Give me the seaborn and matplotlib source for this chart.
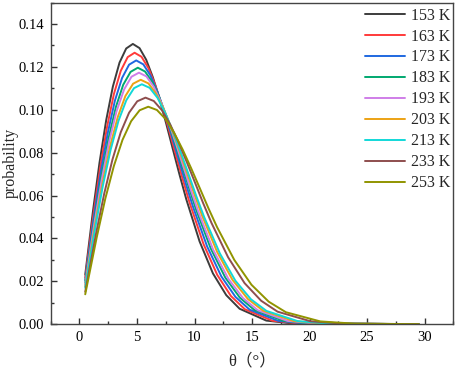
import matplotlib
matplotlib.use("Agg")
import matplotlib.pyplot as plt
from matplotlib.ticker import MultipleLocator, FormatStrFormatter
import seaborn as sns
import pandas as pd

temperatures = ["153 K", "163 K", "173 K", "183 K", "193 K", "203 K", "213 K", "233 K", "253 K"]
colors = ["#3c3c3c", "#ff3a3a", "#1f68e0", "#00a870", "#cf7ee8", "#eca214", "#12d8d8", "#8e4e4e", "#919400"]

theta_153 = [0.5, 1.16, 1.74, 2.32, 2.90, 3.48, 4.06, 4.64, 5.22, 5.80, 6.38, 6.96, 7.54, 8.12, 8.70, 9.28, 10.44, 11.60, 12.76, 13.92, 16.24, 18.56, 29.5]
p_153 = [0.02309, 0.05222, 0.07533, 0.09510, 0.11080, 0.12201, 0.12860, 0.13072, 0.12877, 0.12334, 0.11514, 0.10495, 0.09353, 0.08156, 0.06967, 0.05833, 0.03858, 0.02367, 0.01351, 0.00718, 0.00165, 0.00029, 0.0]

theta_163 = [0.5, 1.20, 1.80, 2.40, 2.99, 3.59, 4.19, 4.79, 5.39, 5.99, 6.59, 7.19, 7.78, 8.38, 8.98, 9.58, 10.78, 11.98, 13.17, 14.37, 16.77, 19.16, 29.5]
p_163 = [0.02167, 0.05059, 0.07297, 0.09212, 0.10733, 0.11819, 0.12457, 0.12662, 0.12474, 0.11948, 0.11154, 0.10167, 0.09060, 0.07901, 0.06749, 0.05651, 0.03737, 0.02293, 0.01309, 0.00696, 0.00160, 0.00028, 0.0]

theta_173 = [0.5, 1.23, 1.85, 2.47, 3.08, 3.70, 4.31, 4.93, 5.55, 6.16, 6.78, 7.40, 8.01, 8.63, 9.24, 9.86, 11.09, 12.33, 13.56, 14.79, 17.26, 19.72, 29.5]
p_173 = [0.02047, 0.04915, 0.07090, 0.08950, 0.10428, 0.11483, 0.12104, 0.12303, 0.12119, 0.11608, 0.10837, 0.09878, 0.08802, 0.07677, 0.06558, 0.05490, 0.03631, 0.02228, 0.01271, 0.00676, 0.00155, 0.00027, 0.0]

theta_183 = [0.5, 1.27, 1.90, 2.54, 3.17, 3.80, 4.44, 5.07, 5.70, 6.34, 6.97, 7.61, 8.24, 8.87, 9.51, 10.14, 11.41, 12.68, 13.94, 15.21, 17.75, 20.28, 29.5]
p_183 = [0.01936, 0.04779, 0.06894, 0.08703, 0.10140, 0.11166, 0.11769, 0.11963, 0.11785, 0.11288, 0.10538, 0.09605, 0.08559, 0.07465, 0.06377, 0.05339, 0.03531, 0.02167, 0.01236, 0.00657, 0.00151, 0.00026, 0.0]

theta_193 = [0.5, 1.29, 1.94, 2.59, 3.23, 3.88, 4.52, 5.17, 5.82, 6.46, 7.11, 7.76, 8.40, 9.05, 9.69, 10.34, 11.63, 12.93, 14.22, 15.51, 18.10, 20.68, 29.5]
p_193 = [0.01862, 0.04687, 0.06761, 0.08535, 0.09944, 0.10950, 0.11542, 0.11732, 0.11557, 0.11070, 0.10334, 0.09419, 0.08394, 0.07320, 0.06253, 0.05235, 0.03463, 0.02125, 0.01212, 0.00645, 0.00148, 0.00026, 0.0]

theta_203 = [0.5, 1.33, 2.00, 2.66, 3.33, 3.99, 4.66, 5.32, 5.99, 6.65, 7.32, 7.98, 8.65, 9.31, 9.98, 10.64, 11.97, 13.30, 14.63, 15.96, 18.62, 21.28, 29.5]
p_203 = [0.01759, 0.04555, 0.06570, 0.08294, 0.09664, 0.10642, 0.11216, 0.11401, 0.11231, 0.10757, 0.10043, 0.09154, 0.08157, 0.07114, 0.06077, 0.05088, 0.03365, 0.02065, 0.01178, 0.00627, 0.00144, 0.00025, 0.0]

theta_213 = [0.5, 1.36, 2.03, 2.71, 3.39, 4.07, 4.74, 5.42, 6.10, 6.78, 7.45, 8.13, 8.81, 9.49, 10.16, 10.84, 12.20, 13.55, 14.91, 16.26, 18.97, 21.68, 29.5]
p_213 = [0.01695, 0.04471, 0.06449, 0.08141, 0.09485, 0.10445, 0.11009, 0.11191, 0.11024, 0.10559, 0.09857, 0.08985, 0.08007, 0.06983, 0.05965, 0.04994, 0.03303, 0.02027, 0.01157, 0.00615, 0.00141, 0.00025, 0.0]

theta_233 = [0.5, 1.44, 2.15, 2.87, 3.59, 4.31, 5.02, 5.74, 6.46, 7.18, 7.89, 8.61, 9.33, 10.05, 10.76, 11.48, 12.92, 14.35, 15.79, 17.22, 20.09, 22.96, 29.5]
p_233 = [0.01512, 0.04222, 0.06090, 0.07687, 0.08957, 0.09863, 0.10396, 0.10567, 0.10409, 0.09970, 0.09308, 0.08484, 0.07560, 0.06593, 0.05632, 0.04716, 0.03119, 0.01914, 0.01092, 0.00581, 0.00133, 0.00023, 0.0]

theta_253 = [0.5, 1.50, 2.24, 2.99, 3.74, 4.49, 5.23, 5.98, 6.73, 7.48, 8.22, 8.97, 9.72, 10.47, 11.21, 11.96, 13.46, 14.95, 16.45, 17.94, 20.93, 23.92, 29.5]
p_253 = [0.01393, 0.04052, 0.05845, 0.07379, 0.08597, 0.09467, 0.09978, 0.10143, 0.09991, 0.09570, 0.08934, 0.08144, 0.07257, 0.06329, 0.05406, 0.04526, 0.02994, 0.01837, 0.01048, 0.00557, 0.00128, 0.00022, 0.0]

x_ticks = [0, 5, 10, 15, 20, 25, 30]
y_ticks = [0.00, 0.02, 0.04, 0.06, 0.08, 0.10, 0.12, 0.14]

series = [
    (theta_153, p_153), (theta_163, p_163), (theta_173, p_173),
    (theta_183, p_183), (theta_193, p_193), (theta_203, p_203),
    (theta_213, p_213), (theta_233, p_233), (theta_253, p_253),
]

frames = []
for label, (th, pr) in zip(temperatures, series):
    frames.append(pd.DataFrame({"theta": th, "p": pr, "T": label}))
df = pd.concat(frames, ignore_index=True)

sns.set_style("white")
plt.rcParams["font.family"] = ["Liberation Serif", "Noto Sans CJK SC"]
plt.rcParams["axes.linewidth"] = 1.0
plt.rcParams["lines.solid_joinstyle"] = "round"

fig = plt.figure(figsize=(4.57, 3.73), dpi=100)
ax = fig.add_axes([0.111, 0.131, 0.881, 0.862])

sns.lineplot(data=df, x="theta", y="p", hue="T", hue_order=temperatures,
             palette=colors, sort=False, estimator=None, units="T",
             linewidth=1.4, ax=ax)

ax.set_xlim(-2.5, 32.5)
ax.set_ylim(0, 0.15)
ax.set_xticks(x_ticks)
ax.set_yticks(y_ticks)
ax.yaxis.set_major_formatter(FormatStrFormatter("%.2f"))
ax.xaxis.set_minor_locator(MultipleLocator(2.5))
ax.yaxis.set_minor_locator(MultipleLocator(0.01))
ax.tick_params(which="both", bottom=True, left=True, top=False, right=False)
ax.tick_params(which="major", direction="in", length=4, width=1.0, color="#333333",
               labelsize=10.5, labelcolor="black", pad=5)
ax.tick_params(which="minor", direction="in", length=2.5, width=1.0, color="#333333")
for s in ax.spines.values():
    s.set_color("#444444")
    s.set_linewidth(1.0)

ax.set_xlabel("θ（°）", fontsize=12, labelpad=7)
ax.set_ylabel("probability", fontsize=11.5)
ax.yaxis.set_label_coords(-0.079, 0.5)

leg = ax.legend(loc="upper right", frameon=False, fontsize=11.5,
                handlelength=2.5, handletextpad=0.35, labelspacing=0.31,
                borderaxespad=0.0, bbox_to_anchor=(1.0085, 1.0044))
for line in leg.get_lines():
    line.set_linewidth(1.4)

fig.savefig("out.png", dpi=100)
